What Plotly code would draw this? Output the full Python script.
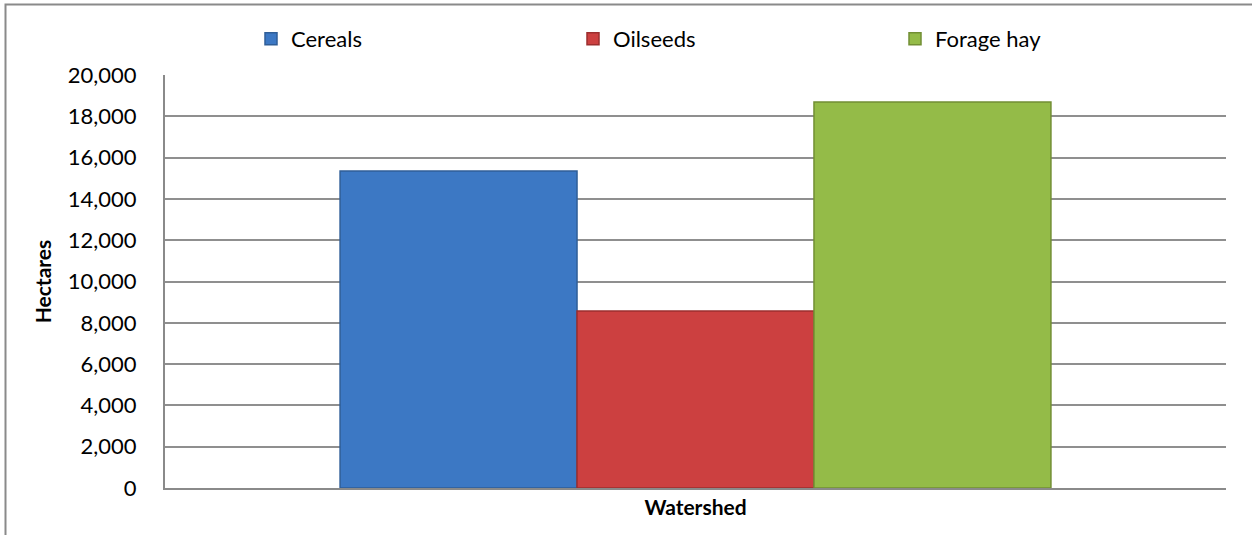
import plotly.graph_objects as go

# Crop area by type, single watershed
category = ["Watershed"]
crop_types = ["Cereals", "Oilseeds", "Forage hay"]
hectares = [15350, 8570, 18690]
y_ticks = [0, 2000, 4000, 6000, 8000, 10000, 12000, 14000, 16000, 18000, 20000]

fills = ["#3c78c4", "#cc4040", "#94bb48"]
edges = ["#2f5e98", "#9c2e2e", "#728f34"]

W, H = 1252, 535
ML, MR, MT, MB = 165, 26, 75, 47
FONT = "Lato, Calibri, 'Open Sans', sans-serif"
FS = 22

fig = go.Figure()
for name, val, fc, ec in zip(crop_types, hectares, fills, edges):
    fig.add_trace(go.Bar(
        name=name, x=category, y=[val],
        marker=dict(color=fc, line=dict(color=ec, width=1.5)),
    ))

pw = W - ML - MR
ph = H - MT - MB

fig.update_layout(
    width=W, height=H,
    margin=dict(l=ML, r=MR, t=MT, b=MB, pad=0, autoexpand=False),
    paper_bgcolor="white", plot_bgcolor="white",
    barmode="group", bargap=0.33, bargroupgap=0,
    font=dict(family=FONT, size=FS, color="#000000"),
    legend=dict(
        orientation="h", x=(251 - ML) / pw, xanchor="left",
        y=1 + 36 / ph, yanchor="middle",
        entrywidth=277, font=dict(size=FS), itemwidth=30,
        bgcolor="rgba(0,0,0,0)", tracegroupgap=0,
    ),
    xaxis=dict(
        showgrid=False, showline=True, linecolor="#8a8a8a", linewidth=2,
        tickfont=dict(size=FS - 1, family=FONT), ticks="",
        tickprefix="<b>", ticksuffix="</b>",
    ),
    yaxis=dict(
        range=[0, 20000], tickvals=y_ticks, tickformat=",d",
        showgrid=True, gridcolor="#8f8f8f", gridwidth=2,
        showline=True, linecolor="#8a8a8a", linewidth=2,
        zeroline=False, ticks="", ticklabelstandoff=22,
        title=dict(text="<b>Hectares</b>", font=dict(size=FS - 1), standoff=10),
    ),
    shapes=[dict(
        type="rect", xref="paper", yref="paper",
        x0=(5.5 - ML) / pw, x1=(W + 20 - ML) / pw,
        y0=-(MB + 20) / ph, y1=1 + (MT - 4.5) / ph,
        line=dict(color="#8a8a8a", width=2), layer="below",
    )],
)

fig.write_html("out.html")
